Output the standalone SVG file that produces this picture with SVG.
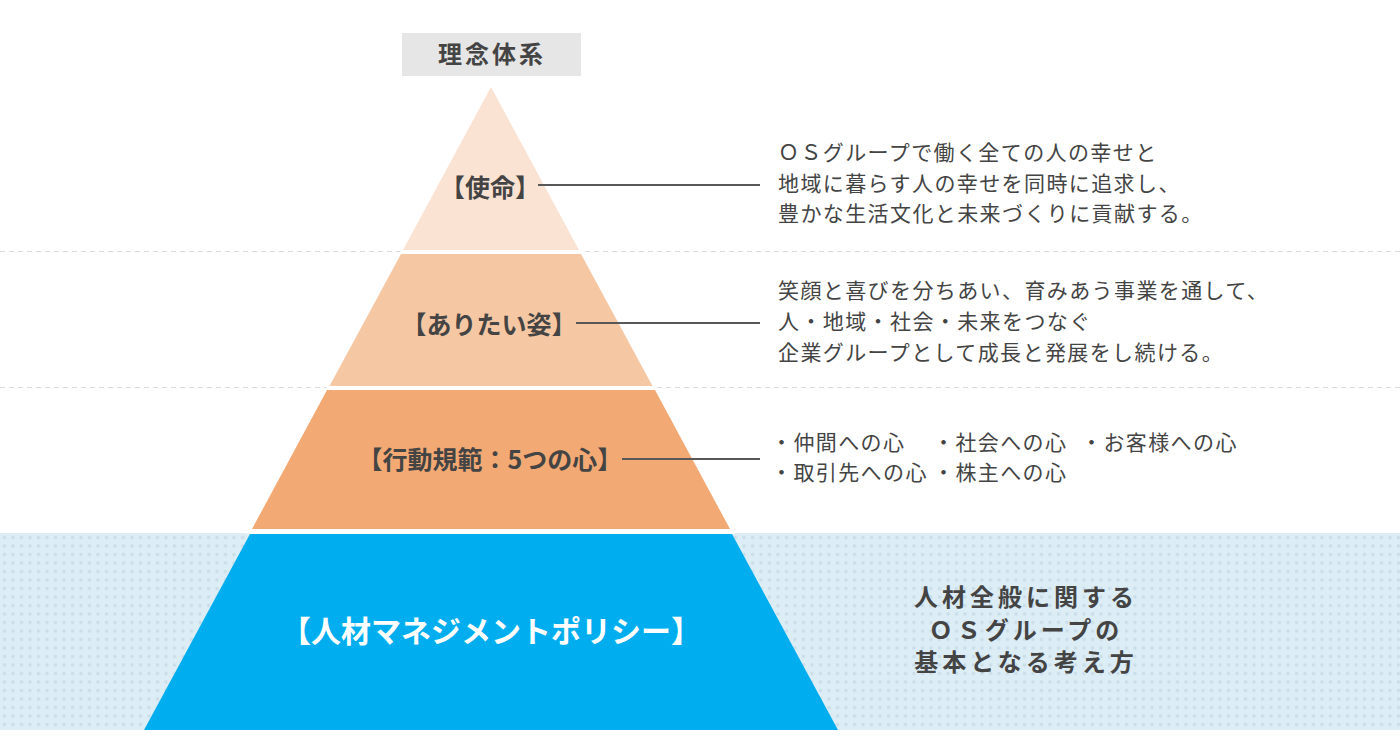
<svg xmlns="http://www.w3.org/2000/svg" width="1400" height="750" viewBox="0 0 1400 750">
  <defs>
    <pattern id="dots" x="0" y="533" width="8.5" height="8.5" patternUnits="userSpaceOnUse">
      <rect width="8.5" height="8.5" fill="#dcedf6"/>
      <rect x="3" y="3" width="3" height="3" fill="#c9dde8"/>
    </pattern>
    <style>
      .lbl { font-family: "Noto Sans CJK JP", "Noto Sans", sans-serif; font-weight: 700; fill: #444; text-anchor: middle; }
      .txt { font-family: "Noto Sans CJK JP", "Noto Sans", sans-serif; font-size: 21px; fill: #444; letter-spacing: 1.4px; }
      .btxt { font-family: "Noto Sans CJK JP", "Noto Sans", sans-serif; font-size: 24px; font-weight: 700; fill: #444; letter-spacing: 4px; text-anchor: middle; }
      .sep { stroke: #d9d9d9; stroke-width: 1; stroke-dasharray: 5 4; fill: none; }
      .conn { stroke: #585858; stroke-width: 1.8; fill: none; }
    </style>
  </defs>

  <rect width="1400" height="750" fill="#ffffff"/>

  <!-- background band and separators -->
  <rect id="band" x="0" y="533" width="1400" height="197" fill="url(#dots)"/>
  <line class="sep" x1="0" y1="251.5" x2="1400" y2="251.5"/>
  <line class="sep" x1="0" y1="387.5" x2="1400" y2="387.5"/>
  <polygon points="491,84 247,534 735,534" fill="#ffffff"/>

  <!-- title -->
  <g id="title">
    <rect x="402" y="33" width="179" height="43" fill="#e6e6e6"/>
    <text class="lbl" x="492" y="63" font-size="24" style="letter-spacing:3px">理念体系</text>
  </g>

  <!-- tiers -->
  <g id="tier-mission">
    <polygon points="491,87 579,250 403,250" fill="#fbe3d3"/>
    <text class="lbl" x="490" y="197" font-size="25">【使命】</text>
  </g>
  <g id="tier-vision">
    <polygon points="401,254 581,254 652.5,386 329.5,386" fill="#f6c7a3"/>
    <text class="lbl" x="489" y="334" font-size="25">【ありたい姿】</text>
  </g>
  <g id="tier-conduct">
    <polygon points="327,390 655,390 730,529 252,529" fill="#f3a973"/>
    <text class="lbl" x="490" y="469" font-size="25">【行動規範：5つの心】</text>
  </g>
  <g id="tier-policy">
    <polygon points="250,534 732,534 838,730 144,730" fill="#00aeef"/>
    <text class="lbl" x="491" y="642" font-size="30" style="fill:#ffffff">【人材マネジメントポリシー】</text>
  </g>

  <!-- connectors -->
  <g id="connectors">
    <line class="conn" x1="538" y1="185" x2="760" y2="185"/>
    <line class="conn" x1="576" y1="323" x2="760" y2="323"/>
    <line class="conn" x1="622" y1="459" x2="760" y2="459"/>
  </g>

  <!-- descriptions -->
  <g id="desc-mission">
    <text class="txt" x="778" y="160">ＯＳグループで働く全ての人の幸せと</text>
    <text class="txt" x="778" y="191">地域に暮らす人の幸せを同時に追求し、</text>
    <text class="txt" x="778" y="221">豊かな生活文化と未来づくりに貢献する。</text>
  </g>
  <g id="desc-vision">
    <text class="txt" x="778" y="298">笑顔と喜びを分ちあい、育みあう事業を通して、</text>
    <text class="txt" x="778" y="329">人・地域・社会・未来をつなぐ</text>
    <text class="txt" x="778" y="360">企業グループとして成長と発展をし続ける。</text>
  </g>
  <g id="desc-conduct">
    <text class="txt" x="771" y="450">・仲間への心</text>
    <text class="txt" x="933" y="450">・社会への心</text>
    <text class="txt" x="1081" y="450">・お客様への心</text>
    <text class="txt" x="771" y="480">・取引先への心</text>
    <text class="txt" x="933" y="480">・株主への心</text>
  </g>
  <g id="desc-policy">
    <text class="btxt" x="1026" y="606">人材全般に関する</text>
    <text class="btxt" x="1026" y="639">ＯＳグループの</text>
    <text class="btxt" x="1026" y="671">基本となる考え方</text>
  </g>
</svg>
